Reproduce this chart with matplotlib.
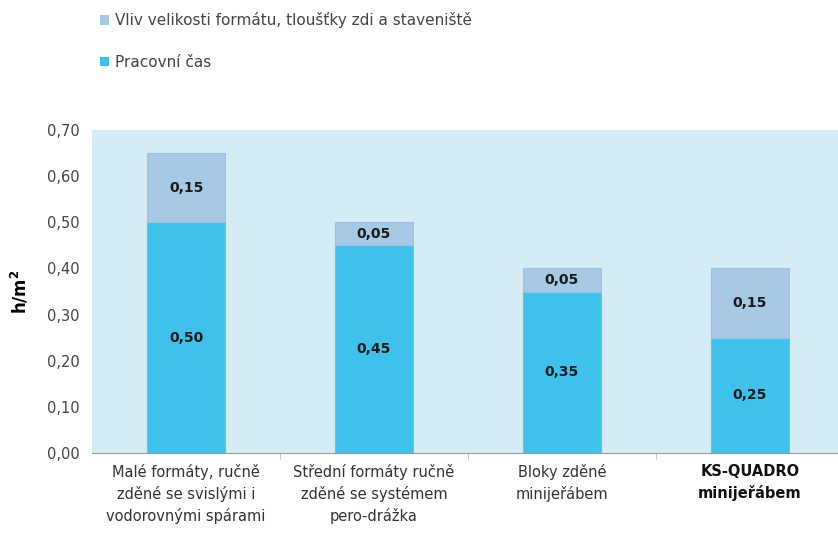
#! /usr/bin/env python3
import matplotlib
matplotlib.use('Agg')
import matplotlib.pyplot as plt
import numpy as np
from matplotlib.patches import Patch

categories = ['Malé formáty, ručně\nzděné se svislými i\nvodorovnými spárami',
              'Střední formáty ručně\nzděné se systémem\npero-drážka',
              'Bloky zděné\nminijeřábem',
              'KS-QUADRO\nminijeřábem']
pracovni_cas = [0.50, 0.45, 0.35, 0.25]
vliv = [0.15, 0.05, 0.05, 0.15]
yticks = [0.0, 0.1, 0.2, 0.3, 0.4, 0.5, 0.6, 0.7]

c_bottom = '#3ec2ec'
c_top = '#a8c9e6'
c_bg = '#d6ecf4'

fig = plt.figure(figsize=(8.38, 5.35), dpi=100)
ax = fig.add_axes([0.110, 0.153, 0.890, 0.604])
ax.set_facecolor(c_bg)

x = np.arange(len(categories))
w = 0.415
ax.bar(x, pracovni_cas, w, color=c_bottom, edgecolor='#58c8ec', linewidth=0.8)
ax.bar(x, vliv, w, bottom=pracovni_cas, color=c_top, edgecolor='#9fc2e2', linewidth=0.8)

for i in range(len(categories)):
    ax.text(x[i], pracovni_cas[i] / 2, '{:.2f}'.format(pracovni_cas[i]).replace('.', ','),
            ha='center', va='center', fontsize=10, fontweight='bold', color='#1a1a1a')
    ax.text(x[i], pracovni_cas[i] + vliv[i] / 2, '{:.2f}'.format(vliv[i]).replace('.', ','),
            ha='center', va='center', fontsize=10, fontweight='bold', color='#1a1a1a')

ax.set_xlim(-0.5, 3.47)
ax.set_ylim(0, 0.70)
ax.set_yticks(yticks)
ax.set_yticklabels(['{:.2f}'.format(v).replace('.', ',') for v in yticks],
                   fontsize=10.5, color='#444444')
ax.tick_params(axis='y', length=0, pad=9)
ax.set_xticks(x)
ax.set_xticklabels(categories, fontsize=10.5, color='#333333', linespacing=1.45)
ax.tick_params(axis='x', length=0, pad=8)
labels = ax.get_xticklabels()
labels[-1].set_fontweight('bold')
labels[-1].set_fontsize(10.5)
labels[-1].set_color('#111111')
ax.set_xticks([0.5, 1.5, 2.5], minor=True)
ax.tick_params(axis='x', which='minor', length=4, color='#bbbbbb', direction='out')

for s in ['top', 'right', 'left']:
    ax.spines[s].set_visible(False)
ax.spines['bottom'].set_color('#999999')
ax.spines['bottom'].set_linewidth(0.8)

ax.set_ylabel('h/m$^\\mathbf{2}$', fontsize=12, fontweight='bold', labelpad=12)

handles = [Patch(facecolor=c_top, edgecolor='none'),
           Patch(facecolor=c_bottom, edgecolor='none')]
fig.legend(handles, ['Vliv velikosti formátu, tloušťky zdi a staveniště', 'Pracovní čas'],
           loc='upper left', bbox_to_anchor=(0.103, 1.003), frameon=False,
           fontsize=11, labelcolor='#444444', handlelength=0.6, handleheight=0.6,
           handletextpad=0.4, labelspacing=1.75)

fig.savefig('out.png', dpi=100, facecolor='white')
